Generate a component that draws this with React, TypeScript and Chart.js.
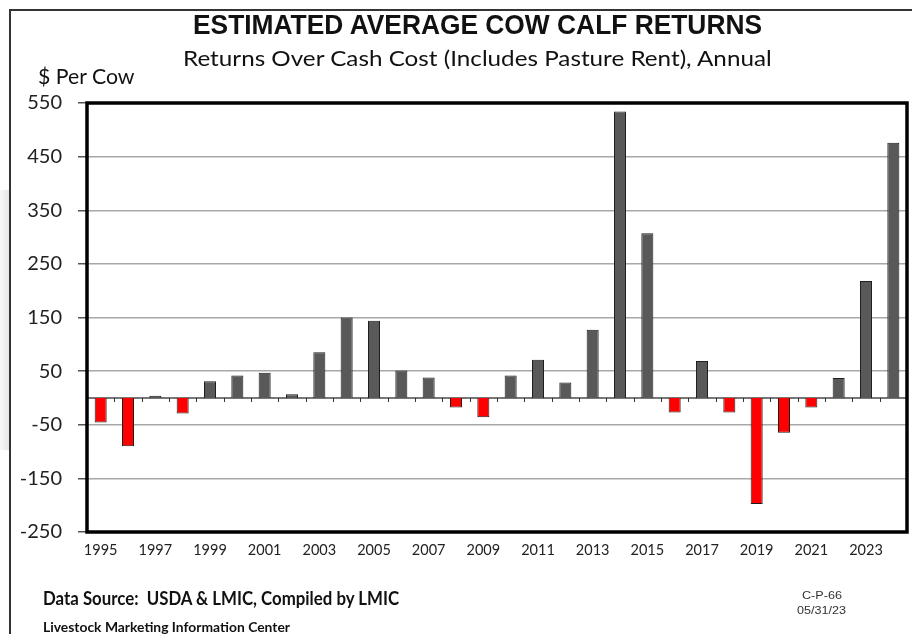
import React, { useEffect, useRef } from "react";
import { Chart, registerables } from "chart.js";

Chart.register(...registerables);

const years: string[] = [
  "1995", "1996", "1997", "1998", "1999", "2000", "2001", "2002", "2003", "2004",
  "2005", "2006", "2007", "2008", "2009", "2010", "2011", "2012", "2013", "2014",
  "2015", "2016", "2017", "2018", "2019", "2020", "2021", "2022", "2023", "2024",
];

const returnsPerCow: number[] = [
  -46, -90, 4, -29, 31, 42, 47, 7, 85, 150,
  144, 51, 38, -18, -36, 42, 71, 29, 127, 534,
  307, -27, 69, -27, -198, -65, -18, 37, 218, 476,
];

const yTicks: number[] = [-250, -150, -50, 50, 150, 250, 350, 450, 550];

const TITLE = "ESTIMATED AVERAGE COW CALF RETURNS";
const SUBTITLE = "Returns Over Cash Cost (Includes Pasture Rent), Annual";
const Y_TITLE = "$ Per Cow";
const SOURCE = "Data Source:  USDA & LMIC, Compiled by LMIC";
const ORG = "Livestock Marketing Information Center";
const CODE = "C-P-66";
const DATE = "05/31/23";

const measureCanvas = typeof document !== "undefined" ? document.createElement("canvas") : null;
function measure(text: string, font: string): number {
  if (!measureCanvas) return 1;
  const ctx = measureCanvas.getContext("2d")!;
  ctx.font = font;
  return ctx.measureText(text).width || 1;
}

type FitProps = {
  text: string;
  left: number;
  width: number;
  cy: number;
  size: number;
  family: string;
  weight?: number;
  color?: string;
};

function FitText({ text, left, width, cy, size, family, weight = 400, color = "#111" }: FitProps) {
  const font = `${weight} ${size}px ${family}`;
  const w = measure(text, font);
  const sx = width / w;
  return (
    <div
      style={{
        position: "absolute",
        left,
        top: cy - size / 2,
        height: size,
        lineHeight: `${size}px`,
        fontFamily: family,
        fontWeight: weight,
        fontSize: size,
        color,
        whiteSpace: "pre",
        transform: `scaleX(${sx})`,
        transformOrigin: "0 50%",
      }}
    >
      {text}
    </div>
  );
}

const framePlugin = {
  id: "frameAndZero",
  beforeDatasetsDraw(chart: any) {
    const { ctx, chartArea, scales } = chart;
    const y0 = scales.y.getPixelForValue(0);
    const xs = scales.x;
    const n = years.length;
    ctx.save();
    ctx.strokeStyle = "#4a4a4a";
    ctx.lineWidth = 1.5;
    ctx.beginPath();
    ctx.moveTo(chartArea.left, y0);
    ctx.lineTo(chartArea.right, y0);
    ctx.stroke();
    ctx.strokeStyle = "#333";
    ctx.lineWidth = 1;
    const half = (xs.getPixelForValue(1) - xs.getPixelForValue(0)) / 2;
    for (let i = 1; i < n; i++) {
      const x = Math.round(xs.getPixelForValue(i) - half) + 0.5;
      ctx.beginPath();
      ctx.moveTo(x, y0);
      ctx.lineTo(x, y0 + 4);
      ctx.stroke();
    }
    ctx.restore();
  },
  afterDraw(chart: any) {
    const { ctx, chartArea } = chart;
    ctx.save();
    ctx.strokeStyle = "#000";
    ctx.lineWidth = 3.5;
    ctx.strokeRect(
      chartArea.left,
      chartArea.top,
      chartArea.right - chartArea.left,
      chartArea.bottom - chartArea.top
    );
    ctx.restore();
  },
};

export default function App() {
  const ref = useRef<HTMLCanvasElement | null>(null);

  useEffect(() => {
    if (!ref.current) return;
    const chart = new Chart(ref.current, {
      type: "bar",
      data: {
        labels: years,
        datasets: [
          {
            data: returnsPerCow,
            backgroundColor: returnsPerCow.map((v) => (v >= 0 ? "#595959" : "#ff0000")),
            borderColor: "#1e1e1e",
            borderWidth: 1,
            barPercentage: 0.44,
            categoryPercentage: 1,
          },
        ],
      },
      options: {
        animation: false,
        responsive: false,
        maintainAspectRatio: false,
        layout: { padding: { top: 103, right: 5, bottom: 62, left: 0 } },
        plugins: {
          legend: { display: false },
          tooltip: { enabled: false },
          title: { display: false },
        },
        scales: {
          x: {
            offset: true,
            grid: { display: false, drawTicks: false },
            border: { display: false },
            ticks: {
              autoSkip: false,
              maxRotation: 0,
              minRotation: 0,
              padding: 10,
              color: "#222",
              font: { family: "Lato", size: 14.5 },
              callback: (_v: any, i: number) => (i % 2 === 0 ? years[i] : ""),
            },
            afterFit: (s: any) => {
              s.height = 40;
            },
          },
          y: {
            min: -250,
            max: 550,
            grid: {
              color: "#a8a8a8",
              lineWidth: 1.5,
              drawTicks: true,
              tickLength: 9,
              tickColor: "#555",
            },
            border: { display: false },
            ticks: {
              padding: 16,
              color: "#222",
              font: { family: "Lato", size: 20 },
            },
            afterBuildTicks: (s: any) => {
              s.ticks = yTicks.map((v) => ({ value: v }));
            },
            afterFit: (s: any) => {
              s.width = 87;
            },
          },
        },
      },
      plugins: [framePlugin],
    });
    return () => chart.destroy();
  }, []);

  return (
    <div
      style={{
        position: "fixed",
        left: 0,
        top: 0,
        width: 912,
        height: 634,
        background: "#fff",
        overflow: "hidden",
      }}
    >
      <div
        style={{
          position: "absolute",
          left: 0,
          top: 190,
          width: 9,
          height: 260,
          background: "linear-gradient(to right, #f8f8f8, #e6e6e6)",
        }}
      />
      <div
        style={{
          position: "absolute",
          left: 9,
          top: 9,
          right: -10,
          bottom: -10,
          borderLeft: "2px solid #333",
          borderTop: "2px solid #333",
        }}
      />
      <canvas ref={ref} width={912} height={634} style={{ position: "absolute", left: 0, top: 0 }} />
      <FitText text={TITLE} left={193} width={570} cy={25} size={28} family="'Liberation Sans', Arial, sans-serif" weight={700} />
      <FitText text={SUBTITLE} left={183} width={590} cy={58} size={22} family="Lato, sans-serif" />
      <FitText text={Y_TITLE} left={38} width={97} cy={75} size={21} family="Lato, sans-serif" />
      <FitText text={SOURCE} left={43} width={357} cy={598} size={18} family="Lato, sans-serif" weight={700} />
      <FitText text={ORG} left={43} width={247} cy={627} size={14} family="Lato, sans-serif" weight={700} />
      <FitText text={CODE} left={802} width={40} cy={595} size={11} family="'Liberation Sans', Arial, sans-serif" color="#333" />
      <FitText text={DATE} left={797} width={49} cy={610} size={11} family="'Liberation Sans', Arial, sans-serif" color="#333" />
    </div>
  );
}
